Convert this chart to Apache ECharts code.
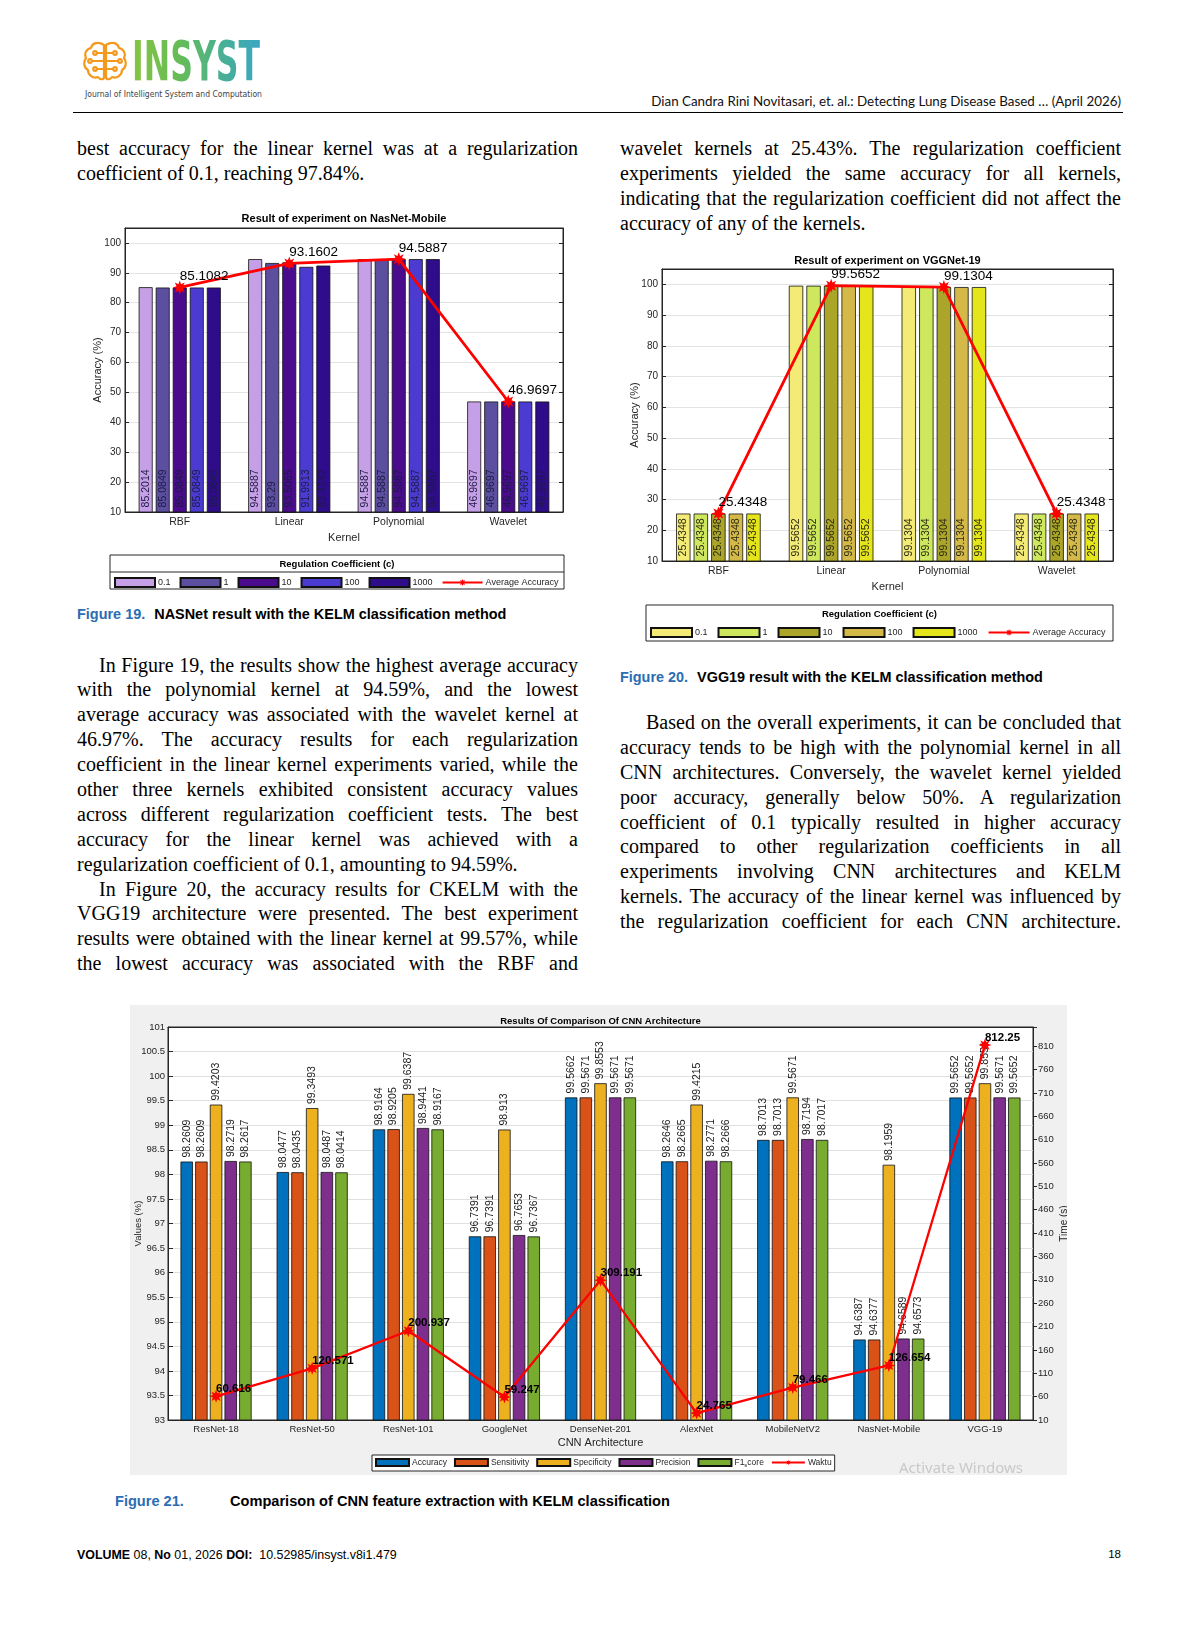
<!DOCTYPE html>
<html>
<head>
<meta charset="utf-8">
<title>Detecting Lung Disease - page 18</title>
<script src="https://cdn.jsdelivr.net/npm/echarts@6.0.0/dist/echarts.min.js"></script>
<style>
  body { margin: 0; background: #fff; }
  #page { position: relative; width: 1200px; height: 1631px; overflow: hidden; background: #fff; }
  .abs { position: absolute; }
  .col { position: absolute; width: 501px; font-family: "Liberation Serif", "Times New Roman", serif;
         font-size: 20px; line-height: 24.9px; color: #000; }
  .col div { height: 24.9px; text-align: justify; text-align-last: justify; }
  .col div.end { text-align-last: left; }
  .col div.ind { text-indent: 22px; }
  .col div.ind2 { text-indent: 26px; }
  .fit { white-space: nowrap; display: inline-block; }
  .cap { font-family: "Liberation Sans", Arial, sans-serif; font-weight: bold; font-size: 13.5px; line-height: 16px; color: #000; }
  .cap .fig { color: #2a6db3; margin-right: 9px; }
  .sans { font-family: "Liberation Sans", Arial, sans-serif; }
</style>
</head>
<body>
<div id="page">

  <!-- journal logo -->
  <svg class="abs" style="left:83px;top:41px" width="44" height="40" viewBox="0 0 44 40">
    <g fill="none" stroke="#f39a1e" stroke-width="2.2" stroke-linejoin="round" stroke-linecap="round">
      <path d="M21,4 C15,0 9,2 8,7 C3,8 1,13 3,17 C0,21 1,27 5,29 C5,34 10,38 15,36 C17,39 21,39 21,36 Z"/>
      <path d="M23,4 C29,0 35,2 36,7 C41,8 43,13 41,17 C44,21 43,27 39,29 C39,34 34,38 29,36 C27,39 23,39 23,36 Z"/>
      <path d="M21,12 L14,12 M21,20 L9,20 M21,28 L14,28 M23,12 L30,12 M23,20 L35,20 M23,28 L30,28"/>
      <circle cx="12" cy="12" r="1.8"/><circle cx="7" cy="20" r="1.8"/><circle cx="12" cy="28" r="1.8"/>
      <circle cx="32" cy="12" r="1.8"/><circle cx="37" cy="20" r="1.8"/><circle cx="32" cy="28" r="1.8"/>
    </g>
  </svg>
  <div id="logo" class="abs" style="left:132px;top:30px;font-family:'DejaVu Sans Condensed','DejaVu Sans';font-weight:bold;font-size:55px;line-height:62px;white-space:nowrap;transform-origin:0 0;
       background:linear-gradient(90deg,#86c440 0%,#63bb5c 40%,#46ae9c 75%,#3aa6c4 100%);-webkit-background-clip:text;background-clip:text;color:transparent;">INSYST</div>
  <div class="abs" style="left:85px;top:84px;line-height:15px;">
    <span id="jname" class="fit" style="font-family:'DejaVu Sans Condensed','DejaVu Sans';font-size:10px;color:#444;">Journal of Intelligent System and Computation</span>
  </div>

  <!-- running head -->
  <div class="abs" style="right:79px;top:93px;line-height:16px;">
    <span id="runhead" class="fit" style="font-family:Lato,'Open Sans',sans-serif;font-size:13.5px;color:#111;">Dian Candra Rini Novitasari, et. al.: Detecting Lung Disease Based … (April 2026)</span>
  </div>
  <div class="abs" style="left:73px;top:111.5px;width:1050px;height:1.3px;background:#000;"></div>

  <!-- left column, top -->
  <div class="col" style="left:77px;top:136px;">
    <div>best accuracy for the linear kernel was at a regularization</div>
    <div class="end">coefficient of 0.1, reaching 97.84%.</div>
  </div>

  <div id="chartNas" class="abs" style="left:85px;top:205px;width:490px;height:390px;"></div>

  <div class="abs" style="left:77px;top:605px;">
    <span id="cap19" class="fit cap"><span class="fig">Figure 19.</span>NASNet result with the KELM classification method</span>
  </div>

  <!-- left column, bottom -->
  <div class="col" style="left:77px;top:652.5px;">
    <div class="ind">In Figure 19, the results show the highest average accuracy</div>
    <div>with the polynomial kernel at 94.59%, and the lowest</div>
    <div>average accuracy was associated with the wavelet kernel at</div>
    <div>46.97%. The accuracy results for each regularization</div>
    <div>coefficient in the linear kernel experiments varied, while the</div>
    <div>other three kernels exhibited consistent accuracy values</div>
    <div>across different regularization coefficient tests. The best</div>
    <div>accuracy for the linear kernel was achieved with a</div>
    <div class="end">regularization coefficient of 0.1, amounting to 94.59%.</div>
    <div class="ind">In Figure 20, the accuracy results for CKELM with the</div>
    <div>VGG19 architecture were presented. The best experiment</div>
    <div>results were obtained with the linear kernel at 99.57%, while</div>
    <div>the lowest accuracy was associated with the RBF and</div>
  </div>

  <!-- right column, top -->
  <div class="col" style="left:620px;top:136px;">
    <div>wavelet kernels at 25.43%. The regularization coefficient</div>
    <div>experiments yielded the same accuracy for all kernels,</div>
    <div>indicating that the regularization coefficient did not affect the</div>
    <div class="end">accuracy of any of the kernels.</div>
  </div>

  <div id="chartVgg" class="abs" style="left:600px;top:245px;width:525px;height:405px;"></div>

  <div class="abs" style="left:620px;top:668px;">
    <span id="cap20" class="fit cap"><span class="fig">Figure 20.</span>VGG19 result with the KELM classification method</span>
  </div>

  <!-- right column, bottom -->
  <div class="col" style="left:620px;top:710px;">
    <div class="ind2">Based on the overall experiments, it can be concluded that</div>
    <div>accuracy tends to be high with the polynomial kernel in all</div>
    <div>CNN architectures. Conversely, the wavelet kernel yielded</div>
    <div>poor accuracy, generally below 50%. A regularization</div>
    <div>coefficient of 0.1 typically resulted in higher accuracy</div>
    <div>compared to other regularization coefficients in all</div>
    <div>experiments involving CNN architectures and KELM</div>
    <div>kernels. The accuracy of the linear kernel was influenced by</div>
    <div>the regularization coefficient for each CNN architecture.</div>
  </div>

  <div id="chartCnn" class="abs" style="left:130px;top:1005px;width:937px;height:470px;"></div>

  <div class="abs cap" style="left:115px;top:1493px;"><span id="fig21a" class="fit fig" style="color:#2a6db3;">Figure 21.</span></div>
  <div class="abs cap" style="left:230px;top:1493px;"><span id="fig21b" class="fit">Comparison of CNN feature extraction with KELM classification</span></div>

  <!-- footer -->
  <div class="abs sans" style="left:77px;top:1546px;line-height:16px;">
    <span id="foot" class="fit" style="font-size:11.5px;color:#000;"><b>VOLUME</b> 08, <b>No</b> 01, 2026 <b>DOI:</b>&nbsp; 10.52985/insyst.v8i1.479</span>
  </div>
  <div class="abs sans" style="right:79px;top:1546px;line-height:16px;font-size:11.5px;">18</div>
</div>

<script>
// ---------- data ----------
var kernels = ['RBF', 'Linear', 'Polynomial', 'Wavelet'];
var coefNames = ['0.1', '1', '10', '100', '1000'];

// NasNet-Mobile accuracy (%), kernel order as above, one array per coefficient c
var nasC01   = [85.2014, 94.5887, 94.5887, 46.9697];
var nasC1    = [85.0849, 93.29,   94.5887, 46.9697];
var nasC10   = [85.0849, 93.5065, 94.5887, 46.9697];
var nasC100  = [85.0849, 91.9913, 94.5887, 46.9697];
var nasC1000 = [85.0849, 92.4242, 94.5887, 46.9697];
var nasAvg   = [85.1082, 93.1602, 94.5887, 46.9697];

// VGGNet-19 accuracy (%)
var vggC01   = [25.4348, 99.5652, 99.1304, 25.4348];
var vggC1    = [25.4348, 99.5652, 99.1304, 25.4348];
var vggC10   = [25.4348, 99.5652, 99.1304, 25.4348];
var vggC100  = [25.4348, 99.5652, 99.1304, 25.4348];
var vggC1000 = [25.4348, 99.5652, 99.1304, 25.4348];
var vggAvg   = [25.4348, 99.5652, 99.1304, 25.4348];

// comparison of CNN architectures
var archNames   = ['ResNet-18', 'ResNet-50', 'ResNet-101', 'GoogleNet', 'DenseNet-201', 'AlexNet', 'MobileNetV2', 'NasNet-Mobile', 'VGG-19'];
var accuracy    = [98.2609, 98.0477, 98.9164, 96.7391, 99.5662, 98.2646, 98.7013, 94.6387, 99.5652];
var sensitivity = [98.2609, 98.0435, 98.9205, 96.7391, 99.5671, 98.2665, 98.7013, 94.6377, 99.5652];
var specificity = [99.4203, 99.3493, 99.6387, 98.913,  99.8553, 99.4215, 99.5671, 98.1959, 99.8551];
var precision   = [98.2719, 98.0487, 98.9441, 96.7653, 99.5671, 98.2771, 98.7194, 94.6589, 99.5671];
var f1score     = [98.2617, 98.0414, 98.9167, 96.7367, 99.5671, 98.2666, 98.7017, 94.6573, 99.5652];
var waktu       = [60.616, 120.571, 200.937, 59.247, 309.191, 24.765, 79.466, 126.654, 812.25];
var metricNames = ['Accuracy', 'Sensitivity', 'Specificity', 'Precision', 'F1_score', 'Waktu'];

// ---------- page text fitting ----------
function fitWidth(id, w) {
  var el = document.getElementById(id);
  var fs = parseFloat(getComputedStyle(el).fontSize);
  el.style.fontSize = (fs * w / el.getBoundingClientRect().width).toFixed(2) + 'px';
}
fitWidth('jname', 177);
fitWidth('runhead', 470);
fitWidth('cap19', 430);
fitWidth('cap20', 424);
fitWidth('fig21b', 440);
document.getElementById('fig21a').style.fontSize = document.getElementById('fig21b').style.fontSize;
fitWidth('foot', 320);
(function () {
  var logo = document.getElementById('logo');
  logo.style.transform = 'scaleX(' + (128 / logo.getBoundingClientRect().width).toFixed(3) + ')';
  // keep every printed line on one line
  var lines = document.querySelectorAll('.col div');
  for (var i = 0; i < lines.length; i++) {
    var fs = 20;
    while (lines[i].scrollHeight > 30 && fs > 17) { fs -= 0.2; lines[i].style.fontSize = fs + 'px'; }
  }
})();

// ---------- charts ----------
var FONT = 'Liberation Sans';
var AX = '#262626';

// MATLAB '*' marker look
function starPath() {
  var pts = [];
  for (var i = 0; i < 16; i++) {
    var r = i % 2 ? 5 : 10, a = Math.PI * i / 8;
    pts.push((r * Math.sin(a)).toFixed(2) + ',' + (-r * Math.cos(a)).toFixed(2));
  }
  return 'path://M' + pts.join('L') + 'Z';
}
var STAR = starPath();

function kernelChart(domId, cfg) {
  var chart = echarts.init(document.getElementById(domId));
  var series = cfg.values.map(function (vals, i) {
    return {
      name: coefNames[i], type: 'bar', data: vals,
      barGap: '22%', barCategoryGap: '25%',
      itemStyle: { color: cfg.colors[i], borderColor: '#111', borderWidth: 0.8 },
      label: { show: true, position: 'insideBottom', rotate: 90, align: 'left', verticalAlign: 'middle',
               distance: 5, fontSize: 10.5, fontFamily: FONT, color: cfg.labelColor }
    };
  });
  series.push({
    name: 'Average Accuracy', type: 'line', data: cfg.avg, z: 10,
    color: '#ff0000', lineStyle: { width: 2.8, color: '#ff0000' },
    symbol: STAR, symbolSize: 14, itemStyle: { color: '#ff0000' },
    label: { show: true, position: 'top', align: 'left', distance: -3, fontSize: 13.5, fontFamily: FONT, color: '#000' }
  });
  var g = cfg.grid;
  var graphic = [
    { type: 'rect', z: 1, shape: cfg.box, style: { fill: '#fff', stroke: AX, lineWidth: 1 } },
    { type: 'text', z: 2, x: cfg.box.x + cfg.box.width / 2, y: cfg.headY,
      style: { text: 'Regulation Coefficient (c)', fontSize: 9.5, fontWeight: 'bold', fontFamily: FONT,
               fill: '#000', textAlign: 'center', textVerticalAlign: 'middle' } },
    { type: 'text', z: 2, x: g.left + cfg.plotW / 2, y: cfg.titleY,
      style: { text: cfg.title, fontSize: 11, fontWeight: 'bold', fontFamily: FONT,
               fill: '#000', textAlign: 'center', textVerticalAlign: 'middle' } }
  ];
  if (cfg.divider) {
    graphic.push({ type: 'line', z: 2, shape: { x1: cfg.box.x, y1: cfg.divider, x2: cfg.box.x + cfg.box.width, y2: cfg.divider },
                   style: { stroke: AX, lineWidth: 1 } });
  }
  var legendData = coefNames.map(function (n) { return { name: n, icon: 'rect' }; });
  legendData.push({ name: 'Average Accuracy' });
  chart.setOption({
    animation: false,
    textStyle: { fontFamily: FONT },
    grid: { left: g.left, right: g.right, top: g.top, bottom: g.bottom, outerBoundsMode: 'none',
            show: true, borderColor: AX, borderWidth: 1, backgroundColor: '#fff' },
    legend: {
      left: cfg.legendLeft, top: cfg.legendTop, width: cfg.box.width, padding: 0, z: 5,
      itemWidth: cfg.itemW, itemHeight: 9, itemGap: cfg.legendGap,
      textStyle: { fontSize: 9, color: AX, fontFamily: FONT, padding: [0, 0, 0, -2] },
      data: legendData
    },
    graphic: graphic,
    xAxis: [{
      type: 'category', data: kernels,
      axisLine: { lineStyle: { color: AX } },
      axisTick: { inside: true, alignWithLabel: true, length: 4, lineStyle: { color: AX } },
      axisLabel: { fontSize: 10.5, color: AX, margin: 5 },
      name: 'Kernel', nameLocation: 'middle', nameGap: 20, nameMoveOverlap: false, nameTextStyle: { fontSize: 11, color: AX }
    }, {
      type: 'category', data: kernels, position: 'top',
      axisLine: { lineStyle: { color: AX } },
      axisTick: { inside: true, alignWithLabel: true, length: 4, lineStyle: { color: AX } },
      axisLabel: { show: false }
    }],
    yAxis: [{
      type: 'value', min: 10, max: 105, interval: 10,
      axisLine: { show: true, lineStyle: { color: AX } },
      axisTick: { show: true, inside: true, length: 4, lineStyle: { color: AX } },
      axisLabel: { fontSize: 10, color: AX, margin: 4, formatter: function (v) { return v % 10 === 0 ? v : ''; } },
      splitLine: { lineStyle: { color: '#e3e3e3' } },
      name: 'Accuracy (%)', nameLocation: 'middle', nameGap: cfg.yNameGap, nameMoveOverlap: false,
      nameTextStyle: { fontSize: 11, color: AX }
    }, {
      type: 'value', min: 10, max: 105, interval: 10, position: 'right',
      axisLine: { show: true, lineStyle: { color: AX } },
      axisTick: { show: true, inside: true, length: 4, lineStyle: { color: AX } },
      axisLabel: { show: false }, splitLine: { show: false }
    }],
    series: series
  });
}

kernelChart('chartNas', {
  title: 'Result of experiment on NasNet-Mobile',
  values: [nasC01, nasC1, nasC10, nasC100, nasC1000], avg: nasAvg,
  colors: ['#c6a0e6', '#5d4fa0', '#4a0c8d', '#4b3bd0', '#2e0c8a'],
  labelColor: '#1d1b45',
  grid: { left: 40, right: 12, top: 23, bottom: 83 }, plotW: 438, titleY: 14,
  box: { x: 25, y: 350, width: 454, height: 34 }, headY: 359, divider: 367,
  legendLeft: 29, legendTop: 372, legendGap: 9, itemW: 40, yNameGap: 22
});

kernelChart('chartVgg', {
  title: 'Result of experiment on VGGNet-19',
  values: [vggC01, vggC1, vggC10, vggC100, vggC1000], avg: vggAvg,
  colors: ['#f4ea76', '#cee85e', '#aba62a', '#d4b948', '#e5e51b'],
  labelColor: '#2a2a10',
  grid: { left: 62, right: 12, top: 24, bottom: 89 }, plotW: 451, titleY: 16,
  box: { x: 46, y: 360, width: 467, height: 36 }, headY: 369, divider: 0,
  legendLeft: 50, legendTop: 382, legendGap: 10, itemW: 41, yNameGap: 22
});

(function () {
  var chart = echarts.init(document.getElementById('chartCnn'));
  var colors = ['#0072bd', '#d95319', '#edb120', '#7e2f8e', '#77ac30'];
  var metrics = [accuracy, sensitivity, specificity, precision, f1score];
  var series = metrics.map(function (vals, i) {
    return {
      name: metricNames[i], type: 'bar', data: vals,
      barGap: '18%', barCategoryGap: '26%',
      itemStyle: { color: colors[i], borderColor: '#111', borderWidth: 0.8 },
      label: { show: true, position: 'top', rotate: 90, align: 'left', verticalAlign: 'middle',
               distance: 4, fontSize: 10.5, fontFamily: FONT, color: '#1a1a1a' }
    };
  });
  series.push({
    name: metricNames[5], type: 'line', yAxisIndex: 1, data: waktu, z: 10,
    color: '#ff0000', lineStyle: { width: 2.3, color: '#ff0000' },
    symbol: STAR, symbolSize: 13, itemStyle: { color: '#ff0000' },
    label: { show: true, position: 'top', align: 'left', distance: -5, fontSize: 11.5, fontWeight: 'bold', fontFamily: FONT, color: '#000' }
  });
  var legendData = metricNames.map(function (n, i) { return i < 5 ? { name: n, icon: 'rect' } : { name: n }; });
  chart.setOption({
    animation: false,
    backgroundColor: '#f0f0f0',
    textStyle: { fontFamily: FONT },
    grid: { left: 38, right: 34, top: 22, bottom: 55, outerBoundsMode: 'none',
            show: true, borderColor: AX, borderWidth: 1, backgroundColor: '#fff' },
    graphic: [
      { type: 'text', x: 38 + 865 / 2, y: 16,
        style: { text: 'Results Of Comparison Of CNN Architecture', fontSize: 9.5, fontWeight: 'bold', fontFamily: FONT,
                 fill: '#000', textAlign: 'center', textVerticalAlign: 'middle' } },
      { type: 'text', x: 769, y: 464,
        style: { text: 'Activate Windows', fontSize: 15, fontFamily: 'Noto Sans', fill: '#c9c9c9', textVerticalAlign: 'middle' } }
    ],
    legend: {
      left: 242, top: 450, width: 470, padding: [3, 3], z: 5,
      backgroundColor: '#fff', borderColor: AX, borderWidth: 1,
      itemWidth: 33, itemHeight: 7, itemGap: 7,
      textStyle: { fontSize: 8.5, color: AX, fontFamily: FONT, padding: [0, 0, 0, -2],
                   rich: { n: { fontSize: 8.5, color: AX }, s: { fontSize: 6, color: AX, verticalAlign: 'bottom', padding: [5, 0, 0, 0] } } },
      formatter: function (name) { return name === 'F1_score' ? '{n|F1}{s|s}{n|core}' : name; },
      data: legendData
    },
    xAxis: [{
      type: 'category', data: archNames,
      axisLine: { lineStyle: { color: AX } },
      axisTick: { inside: true, alignWithLabel: true, length: 4, lineStyle: { color: AX } },
      axisLabel: { fontSize: 9.5, color: AX, margin: 4 },
      name: 'CNN Architecture', nameLocation: 'middle', nameGap: 17, nameMoveOverlap: false,
      nameTextStyle: { fontSize: 11, color: AX }
    }, {
      type: 'category', data: archNames, position: 'top',
      axisLine: { lineStyle: { color: AX } },
      axisTick: { inside: true, alignWithLabel: true, length: 5, lineStyle: { color: AX } },
      axisLabel: { show: false }
    }],
    yAxis: [{
      type: 'value', min: 93, max: 101, interval: 0.5,
      axisLine: { show: true, lineStyle: { color: AX } },
      axisTick: { show: true, inside: true, length: 5, lineStyle: { color: AX } },
      axisLabel: { fontSize: 9.5, color: AX, margin: 3 },
      splitLine: { lineStyle: { color: '#e0e0e0' } },
      name: 'Values (%)', nameLocation: 'middle', nameGap: 25, nameMoveOverlap: false,
      nameTextStyle: { fontSize: 9.5, color: AX }
    }, {
      type: 'value', min: 10, max: 851, interval: 50, position: 'right',
      axisLine: { show: true, lineStyle: { color: AX } },
      axisTick: { show: true, length: 4, lineStyle: { color: AX } },
      axisLabel: { fontSize: 9.5, color: AX, margin: 5, formatter: function (v) { return v > 850 ? '' : v; } },
      splitLine: { show: false },
      name: 'Time (s)', nameLocation: 'middle', nameGap: 26, nameMoveOverlap: false,
      nameTextStyle: { fontSize: 10, color: AX }
    }],
    series: series
  });
})();
</script>
</body>
</html>
